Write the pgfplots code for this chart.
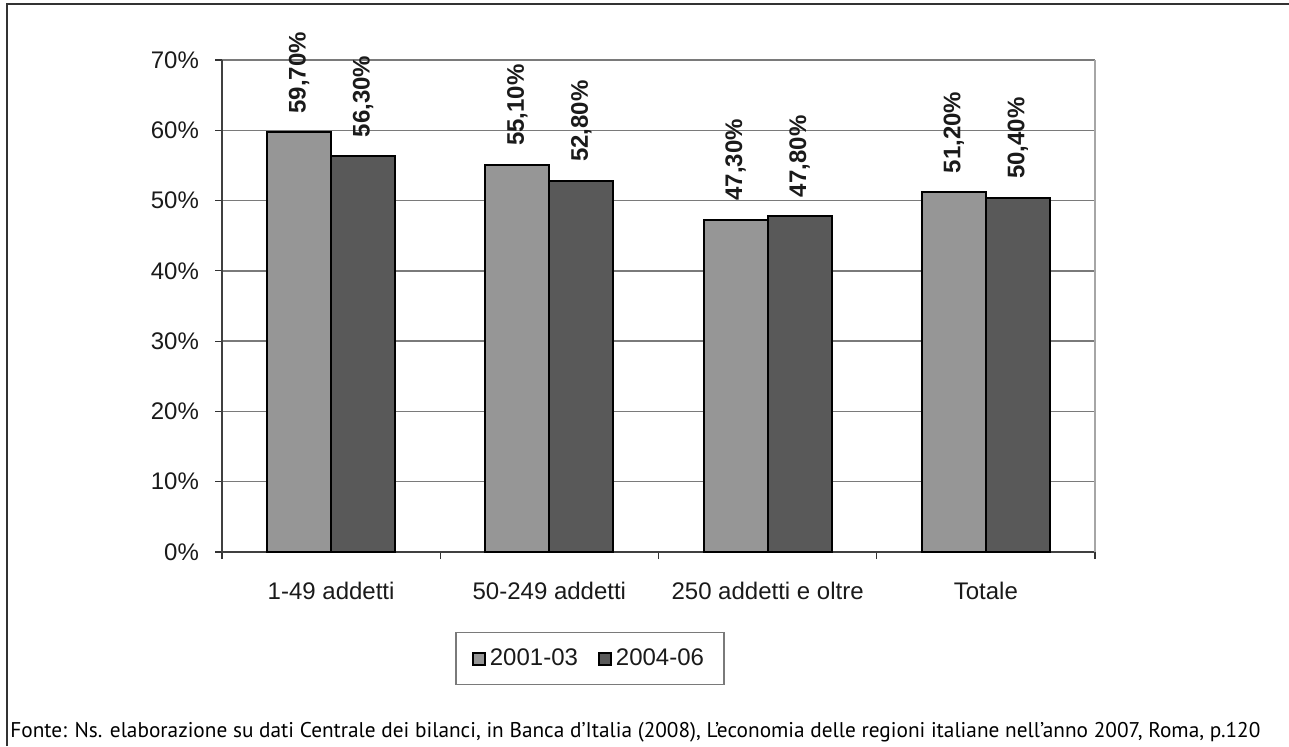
\documentclass[border=0pt]{standalone}
\usepackage{fontspec}
\setmainfont{Liberation Sans}
\newfontfamily\footfont{PT Sans}
\usepackage{pgfplots}
\pgfplotsset{compat=1.18}
\definecolor{barA}{HTML}{969696}
\definecolor{barB}{HTML}{595959}
\definecolor{gridc}{HTML}{7A7A7A}
\definecolor{txt}{HTML}{1A1A1A}
\begin{document}
\begin{tikzpicture}
\useasboundingbox (0,0) rectangle (644.5pt,373pt);
\draw[line width=1pt, color=black!80] (3.5pt,0) -- (3.5pt,371pt) -- (644.5pt,371pt);
\begin{axis}[
  at={(111pt,97pt)}, anchor=south west,
  scale only axis, width=436.5pt, height=246pt,
  ymin=0, ymax=70, ytick={0,10,...,70},
  yticklabels={0\%,10\%,20\%,30\%,40\%,50\%,60\%,70\%},
  xmin=-0.5, xmax=3.5,
  xtick={0,1,2,3},
  xticklabels={1-49 addetti, 50-249 addetti, 250 addetti e oltre, Totale},
  minor xtick={-0.5,0.5,1.5,2.5,3.5},
  major x tick style={draw=none},
  minor x tick style={draw=black!80, line width=0.6pt},
  major y tick style={draw=black!80, line width=0.6pt},
  tick align=outside, tick pos=left,
  major tick length=3.5pt, minor tick length=3.5pt,
  axis x line*=bottom, axis y line*=left,
  axis line style={draw=black!75, line width=0.7pt, -},
  ymajorgrids, grid style={draw=gridc, line width=0.7pt},
  tick label style={font=\fontsize{12}{14}\selectfont, text=txt},
  xticklabel style={yshift=-8pt},
  yticklabel style={xshift=-4.5pt},
  ybar=0pt, bar width=32pt,
  point meta=explicit symbolic,
  nodes near coords,
  every node near coord/.append style={rotate=90, anchor=west, inner sep=0pt, outer ysep=0pt, outer xsep=9.5pt, font=\bfseries\fontsize{12}{14}\selectfont, text=txt},
  legend columns=2,
  legend style={at={(0.4215,-0.1626)}, anchor=north, draw=gridc, line width=0.7pt, font=\fontsize{12}{14}\selectfont, text=txt, inner xsep=8pt, inner ysep=6pt, /tikz/every even column/.append style={column sep=8pt}},
  legend image code/.code={\draw[#1, line width=1pt] (0pt,-3pt) rectangle (6pt,3pt);},
  clip=false,
]
\addplot[fill=barA, draw=black, line width=1pt] coordinates {(0,59.7) [59,70\%] (1,55.1) [55,10\%] (2,47.3) [47,30\%] (3,51.2) [51,20\%]};
\addplot[fill=barB, draw=black, line width=1pt] coordinates {(0,56.3) [56,30\%] (1,52.8) [52,80\%] (2,47.8) [47,80\%] (3,50.4) [50,40\%]};
\legend{2001-03, 2004-06}
\draw[draw=gray!70, line width=0.8pt] (rel axis cs:1,0) -- (rel axis cs:1,1);
\end{axis}
\node[anchor=base west, inner sep=0pt] at (5pt,4.5pt) {\resizebox{625pt}{!}{\footfont\fontsize{10}{12}\selectfont Fonte: Ns. elaborazione su dati Centrale dei bilanci, in Banca d’Italia (2008), L’economia delle regioni italiane nell’anno 2007, Roma, p.120}};
\end{tikzpicture}
\end{document}
